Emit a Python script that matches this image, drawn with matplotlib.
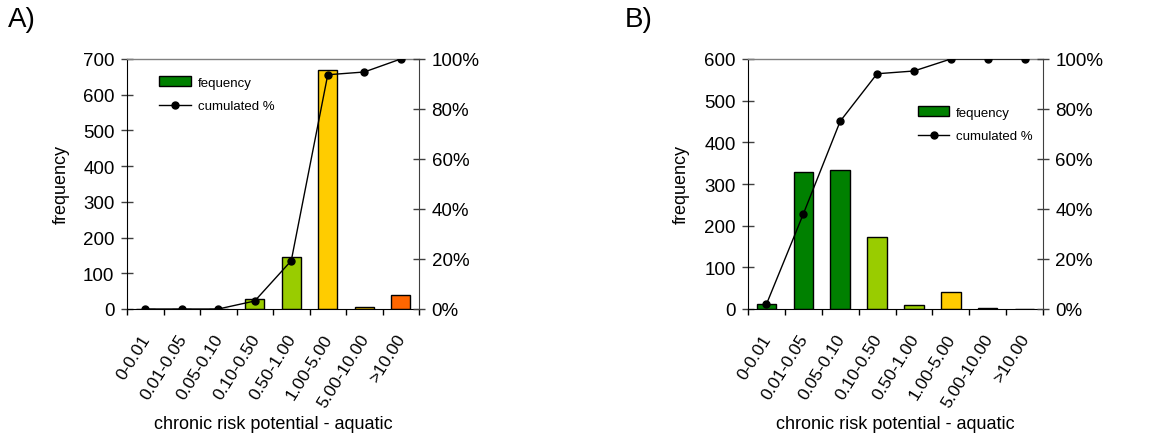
import matplotlib
matplotlib.use("Agg")
import matplotlib.pyplot as plt
from matplotlib.patches import Patch
from matplotlib.lines import Line2D
from matplotlib.ticker import PercentFormatter

plt.rcParams["font.family"] = ["Liberation Sans", "DejaVu Sans"]

categories = ["0-0.01", "0.01-0.05", "0.05-0.10", "0.10-0.50",
              "0.50-1.00", "1.00-5.00", "5.00-10.00", ">10.00"]
bar_colors = ["#008000", "#008000", "#008000", "#99cc00",
              "#99cc00", "#ffcc00", "#ffcc00", "#ff6600"]

freq_a = [0, 0, 0, 29, 145, 668, 7, 40]
cum_a = [0.0, 0.0, 0.0, 0.032, 0.193, 0.937, 0.948, 1.0]

freq_b = [13, 329, 334, 172, 9, 42, 2, 0]
cum_b = [0.019, 0.38, 0.751, 0.941, 0.952, 1.0, 1.0, 1.0]

W, H = 1175, 435
fig = plt.figure(figsize=(W / 100, H / 100), dpi=100)


def panel(rect, freq, cum, ymax, letter, letter_xy, legend_anchor):
    ax = fig.add_axes(rect)
    x = range(len(categories))
    ax.bar(x, freq, width=0.53, color=bar_colors, edgecolor="black", linewidth=1, zorder=2)
    ax.set_xlim(-0.5, len(categories) - 0.5)
    ax.set_ylim(0, ymax)
    ax.set_yticks(range(0, ymax + 1, 100))
    ax.set_xticks([i - 0.5 for i in range(len(categories) + 1)])
    ax.set_xticklabels([])
    ax.tick_params(axis="x", direction="out", length=4, width=1, color="black")
    ax.tick_params(axis="y", direction="inout", length=8, width=1, labelsize=13.5, pad=5,
                   color="#404040")
    for i, lab in enumerate(categories):
        ax.annotate(lab, xy=(i, 0), xycoords=("data", "axes fraction"),
                    xytext=(1, -19), textcoords="offset points",
                    rotation=58, rotation_mode="anchor", ha="right", va="center",
                    fontsize=12.5)
    ax.spines["top"].set_color("#808080")
    ax.spines["top"].set_linewidth(1)
    ax.spines["right"].set_visible(False)
    ax.set_ylabel("frequency", fontsize=13)
    ax.yaxis.set_label_coords(-0.196, 0.5)
    ax.set_xlabel("chronic risk potential - aquatic", fontsize=13)
    ax.xaxis.set_label_coords(0.5, -0.425)

    ax2 = ax.twinx()
    ax2.plot(x, cum, color="black", lw=1, marker="o", markersize=5, zorder=3)
    ax2.set_ylim(0, 1)
    ax2.set_yticks([0, 0.2, 0.4, 0.6, 0.8, 1.0])
    ax2.yaxis.set_major_formatter(PercentFormatter(1.0, decimals=0))
    ax2.tick_params(axis="y", direction="inout", length=8, width=1, labelsize=13.5, pad=5,
                    color="#404040")
    ax2.spines["right"].set_color("#404040")
    ax2.spines["top"].set_visible(False)
    ax2.spines["left"].set_visible(False)
    ax2.spines["bottom"].set_visible(False)

    handles = [Patch(facecolor="#008000", edgecolor="black", linewidth=1),
               Line2D([], [], color="black", lw=1, marker="o", markersize=5)]
    ax2.legend(handles, ["fequency", "cumulated %"], loc="upper left",
               bbox_to_anchor=legend_anchor, frameon=False, fontsize=9.5,
               handlelength=2.4, handleheight=0.8, labelspacing=0.85, handletextpad=0.5)

    fig.text(letter_xy[0], letter_xy[1], letter, fontsize=20, ha="left", va="top")
    return ax


panel([127 / W, 1 - 310 / H, 292 / W, 250 / H], freq_a, cum_a, 700, "A)",
      (8 / W, 1 - 7 / H), (0.07, 0.98))
panel([748 / W, 1 - 310 / H, 295 / W, 250 / H], freq_b, cum_b, 600, "B)",
      (625 / W, 1 - 7 / H), (0.535, 0.86))

fig.savefig("out.png", dpi=100)
